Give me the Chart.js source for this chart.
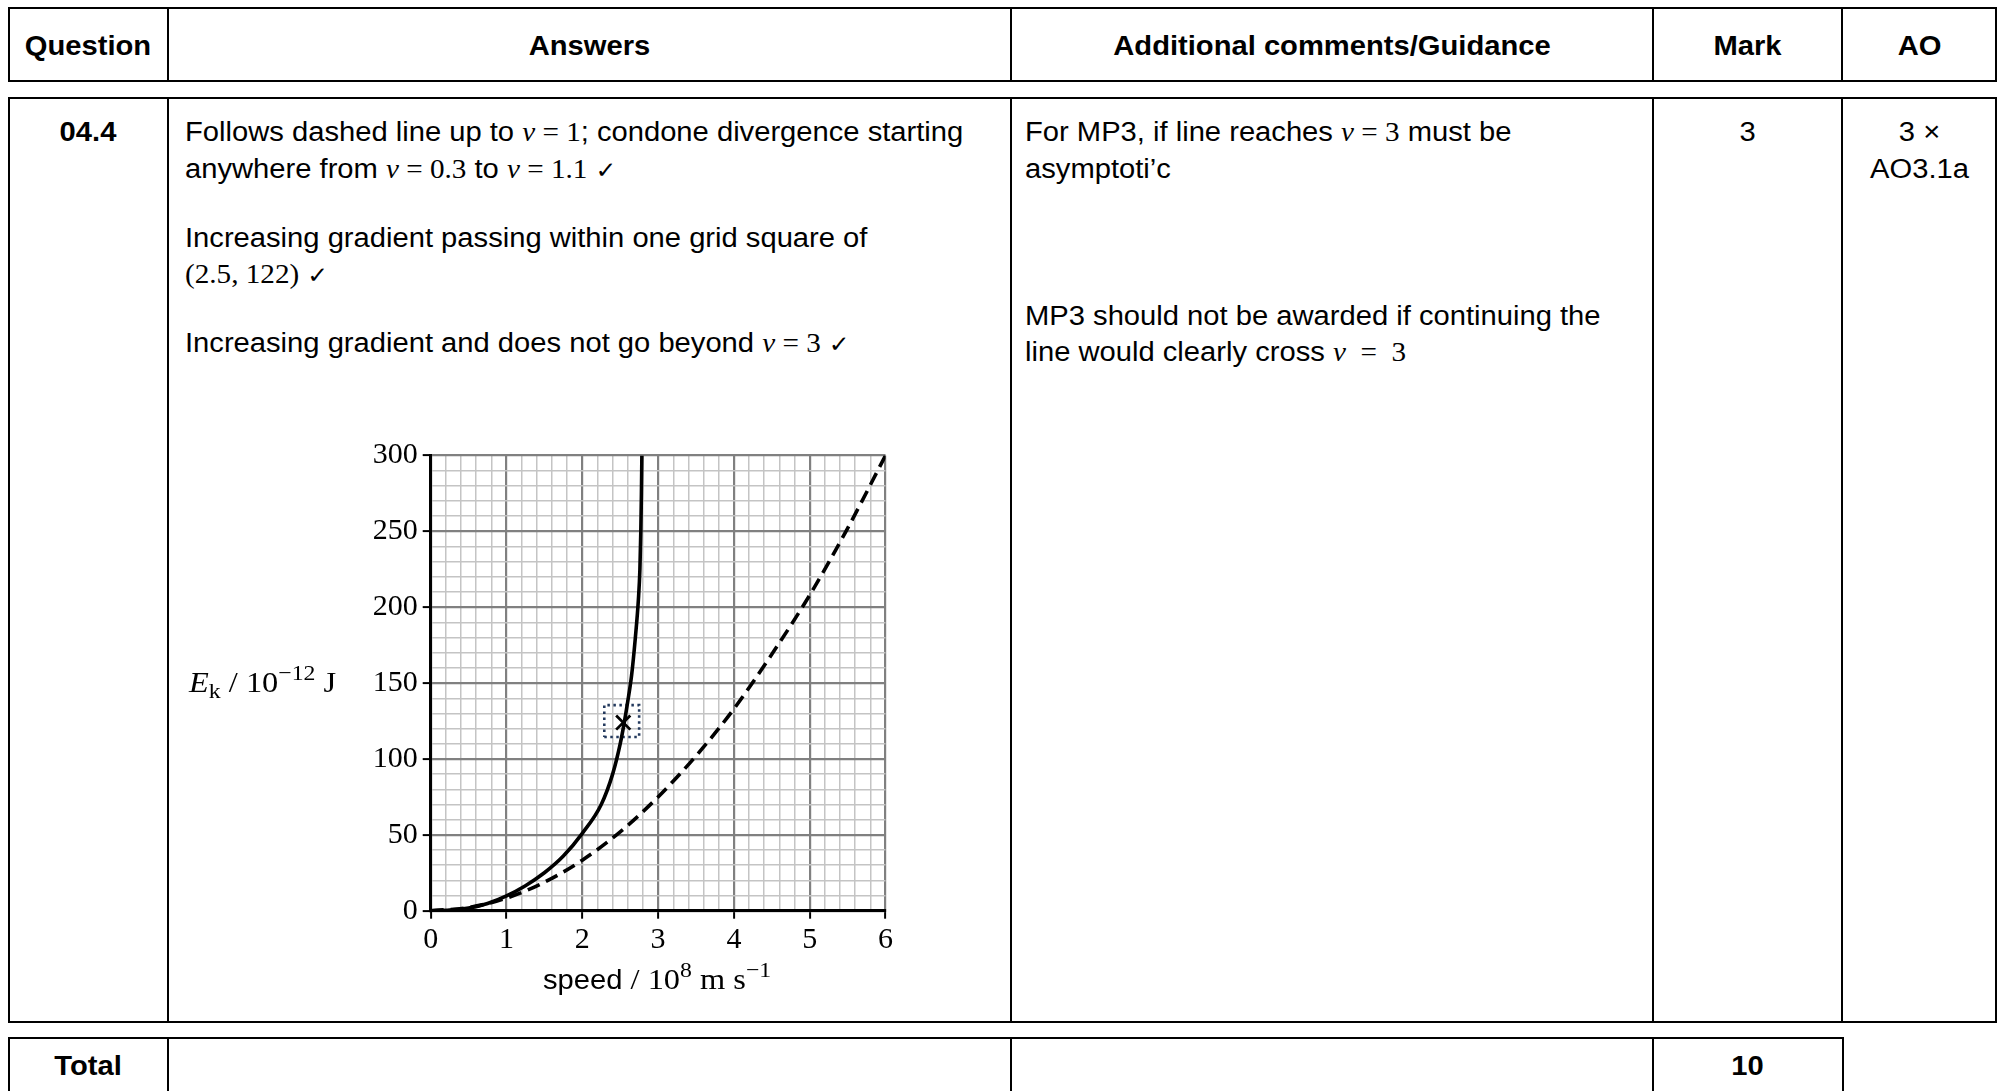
<!DOCTYPE html>
<html><head><meta charset="utf-8">
<script src="https://cdn.jsdelivr.net/npm/chart.js@4.4.0/dist/chart.umd.min.js"></script>
<style>
html,body{margin:0;padding:0;background:#fff;}
#page{position:relative;width:2002px;height:1091px;overflow:hidden;background:#fff;}
.box{position:absolute;border:2.5px solid #000;box-sizing:border-box;}
.vl{position:absolute;width:1.5px;background:#000;}
.t{position:absolute;font-family:"Liberation Sans",Arial,sans-serif;font-size:27px;line-height:27px;white-space:nowrap;transform:scaleX(1.08);transform-origin:0 0;color:#000;}
.c{text-align:center;transform-origin:50% 0;}
.b{font-weight:bold;}
.m{font-family:"Liberation Serif","Times New Roman",serif;}
.ck{font-family:"DejaVu Sans",sans-serif;font-size:23px;}
.s{font-family:"Liberation Serif","Times New Roman",serif;font-size:30px;line-height:27px;}
.sub{font-size:22px;position:relative;top:6px;}
.sup{font-size:22px;position:relative;top:-12px;}
#chart{position:absolute;left:300px;top:400px;}
</style></head>
<body><div id="page">
<!-- header -->
<div class="box" style="left:8px;top:7px;width:1989px;height:75px;"></div>
<div class="vl" style="left:167px;top:7px;height:75px;"></div>
<div class="vl" style="left:1010px;top:7px;height:75px;"></div>
<div class="vl" style="left:1652px;top:7px;height:75px;"></div>
<div class="vl" style="left:1841px;top:7px;height:75px;"></div>
<div class="t c b" style="left:8px;width:160px;top:33px;">Question</div>
<div class="t c b" style="left:168px;width:843px;top:33px;">Answers</div>
<div class="t c b" style="left:1011px;width:642px;top:33px;">Additional comments/Guidance</div>
<div class="t c b" style="left:1653px;width:189px;top:33px;">Mark</div>
<div class="t c b" style="left:1842px;width:155px;top:33px;">AO</div>
<!-- body -->
<div class="box" style="left:8px;top:97px;width:1989px;height:926px;"></div>
<div class="vl" style="left:167px;top:97px;height:926px;"></div>
<div class="vl" style="left:1010px;top:97px;height:926px;"></div>
<div class="vl" style="left:1652px;top:97px;height:926px;"></div>
<div class="vl" style="left:1841px;top:97px;height:926px;"></div>
<div class="t c b" style="left:8px;width:160px;top:119px;">04.4</div>
<div class="t" style="left:185px;top:119px;">Follows dashed line up to <span class="m"><i>v</i> = 1</span>; condone divergence starting</div>
<div class="t" style="left:185px;top:156px;">anywhere from <span class="m"><i>v</i> = 0.3</span> to <span class="m"><i>v</i> = 1.1</span> <span class="ck">✓</span></div>
<div class="t" style="left:185px;top:225px;">Increasing gradient passing within one grid square of</div>
<div class="t" style="left:185px;top:261px;"><span class="m">(2.5, 122)</span> <span class="ck">✓</span></div>
<div class="t" style="left:185px;top:330px;">Increasing gradient and does not go beyond <span class="m"><i>v</i> = 3</span> <span class="ck">✓</span></div>
<div class="t" style="left:1025px;top:119px;">For MP3, if line reaches <span class="m"><i>v</i> = 3</span> must be</div>
<div class="t" style="left:1025px;top:156px;">asymptoti’c</div>
<div class="t" style="left:1025px;top:303px;">MP3 should not be awarded if continuing the</div>
<div class="t" style="left:1025px;top:339px;">line would clearly cross <span class="m"><i>v</i> &nbsp;= &nbsp;3</span></div>
<div class="t c" style="left:1653px;width:189px;top:119px;">3</div>
<div class="t c" style="left:1842px;width:155px;top:119px;">3 ×</div>
<div class="t c" style="left:1842px;width:155px;top:156px;">AO3.1a</div>
<!-- total -->
<div class="box" style="left:8px;top:1037px;width:1836px;height:120px;"></div>
<div class="vl" style="left:167px;top:1037px;height:120px;"></div>
<div class="vl" style="left:1010px;top:1037px;height:120px;"></div>
<div class="vl" style="left:1652px;top:1037px;height:120px;"></div>
<div class="t c b" style="left:8px;width:160px;top:1053px;">Total</div>
<div class="t c b" style="left:1653px;width:189px;top:1053px;">10</div>
<!-- chart -->
<canvas id="chart" width="640" height="600" style="width:640px;height:600px;"></canvas>
<div class="t s" style="left:189px;top:668px;"><i>E</i><span class="sub">k</span> / 10<span class="sup">−12</span> J</div>
<div class="t" style="left:543px;top:965px;">speed<span class="s"> / 10<span class="sup">8</span> m s<span class="sup">−1</span></span></div>
</div>
<script>
// ---- data ----
const xTickValues = [0, 1, 2, 3, 4, 5, 6];
const yTickValues = [0, 50, 100, 150, 200, 250, 300];
const solidSpeed  = [0, 0.25, 0.5, 0.75, 1, 1.25, 1.5, 1.75, 2, 2.25, 2.4, 2.5, 2.55, 2.6, 2.65, 2.7, 2.74, 2.76, 2.772, 2.78, 2.786];
const solidEnergy = [0, 0.4, 1.7, 4.8, 9.8, 16.5, 25, 36, 51, 70, 90, 110, 123, 138, 155, 180, 205, 225, 250, 275, 300];
const dashedSpeed  = [0, 0.5, 1, 1.5, 2, 2.5, 3, 3.5, 4, 4.5, 5, 5.5, 6];
const dashedEnergy = [0, 2.1, 8.3, 18.8, 33.3, 52, 75, 102, 133, 169, 208, 252, 300];
const markSpeed  = [2.54];
const markEnergy = [124];
const boxSpeed  = [2.29, 2.75, 2.75, 2.29, 2.29];
const boxEnergy = [114.5, 114.5, 135.5, 135.5, 114.5];

const pts = (xs, ys) => xs.map((x, i) => ({x: x, y: ys[i]}));
const near = (v, list) => list.some(t => Math.abs(v - t) < 1e-6);
const serif = '"Liberation Serif","Times New Roman",serif';

function gridOpts(majors) {
  return {
    color: c => (c.tick && near(c.tick.value, majors)) ? '#808080' : '#c4c4c4',
    lineWidth: c => (c.tick && near(c.tick.value, majors)) ? 2.2 : 1.5,
    tickLength: 8,
    tickColor: c => (c.tick && near(c.tick.value, majors)) ? '#000' : 'rgba(0,0,0,0)',
    tickWidth: 2
  };
}

new Chart(document.getElementById('chart'), {
  type: 'scatter',
  data: {
    datasets: [
      {data: pts(dashedSpeed, dashedEnergy), showLine: true, borderColor: '#000', borderWidth: 3.6,
       borderDash: [13, 7], pointRadius: 0, cubicInterpolationMode: 'monotone', fill: false},
      {data: pts(solidSpeed, solidEnergy), showLine: true, borderColor: '#000', borderWidth: 3.6,
       pointRadius: 0, cubicInterpolationMode: 'monotone', fill: false},
      {data: pts(boxSpeed, boxEnergy), showLine: true, borderColor: '#23395d', borderWidth: 2.6,
       borderDash: [2.5, 3.5], pointRadius: 0, tension: 0, fill: false},
      {data: pts(markSpeed, markEnergy), showLine: false, pointStyle: 'crossRot', pointRadius: 10,
       borderColor: '#000', pointBorderWidth: 2.8, backgroundColor: '#000'}
    ]
  },
  options: {
    responsive: false, animation: false, devicePixelRatio: 1,
    layout: {padding: {left: 0, top: 55.5, right: 54.5, bottom: 40}},
    plugins: {legend: {display: false}, tooltip: {enabled: false}},
    scales: {
      x: {
        type: 'linear', min: 0, max: 6,
        afterFit: s => { s.height = 49.3; },
        ticks: {stepSize: 0.2, maxTicksLimit: 100, autoSkip: false, maxRotation: 0, padding: 3,
                color: '#000', font: {family: serif, size: 30},
                callback: v => near(v, xTickValues) ? String(Math.round(v)) : ''},
        grid: gridOpts(xTickValues),
        border: {color: '#000', width: 3}
      },
      y: {
        type: 'linear', min: 0, max: 300,
        afterFit: s => { s.width = 130.7; },
        ticks: {stepSize: 10, maxTicksLimit: 100, autoSkip: false, padding: 5,
                color: '#000', font: {family: serif, size: 30},
                callback: v => near(v, yTickValues) ? String(Math.round(v)) : ''},
        grid: gridOpts(yTickValues),
        border: {color: '#000', width: 3}
      }
    }
  }
});
</script>
</body></html>
